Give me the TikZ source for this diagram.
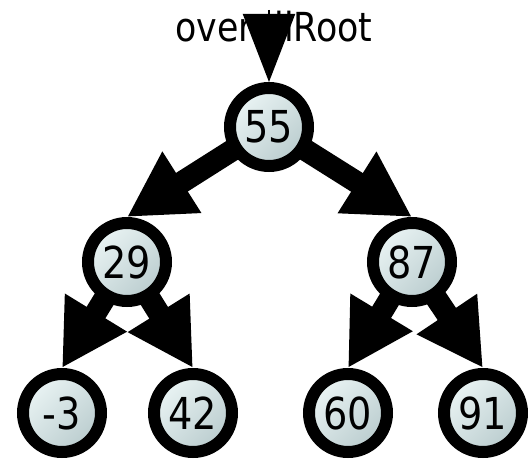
\documentclass[tikz,border=0pt]{standalone}
\usepackage{fontspec}
\setmainfont{DejaVu Sans}[FakeStretch=0.87]
\usepackage{tikz}
\usetikzlibrary{arrows.meta}
\usetikzlibrary{positioning}
\tikzset{font={\fontsize{44pt}{48}\selectfont}}
\usepackage{xcolor}
\definecolor{nodelight}{RGB}{234,244,244}
\definecolor{nodemid}{RGB}{222,236,236}
\definecolor{nodedark}{RGB}{186,204,206}

\begin{document}
\begin{tikzpicture}[x=1pt,y=-1pt,
treenode/.style={circle,draw=black,line width=12pt,minimum size=78pt,inner sep=0pt,
  top color=nodelight,middle color=nodemid,bottom color=nodedark,shading angle=45},
childarrow/.style={line width=22pt,shorten <=-6pt,-{Triangle[length=65pt,width=68pt]}},
rootarrow/.style={line width=2pt,-{Triangle[length=68pt,width=52pt]}}
]
\useasboundingbox[fill=white] (0,0) rectangle (528,465);
\node[anchor=base,font={\fontsize{40pt}{44}\selectfont}] (label) at (274,42) {overallRoot};
\coordinate (rootptr) at (269,10);

\foreach \name/\val/\x/\y in {n55/55/269/127,n29/29/127/262,n87/87/412/262,
  m3/-3/62/413,n42/42/193/413,n60/60/348/413,n91/91/483/413}
  \node[treenode] (\name) at (\x,\y) {\val};

\foreach \a/\b in {n55/n29,n55/n87,n29/m3,n29/n42,n87/n60,n87/n91}
  \draw[childarrow] (\a) -- (\b.north);
\draw[rootarrow] (rootptr) -- (n55.north);

\end{tikzpicture}
\end{document}
